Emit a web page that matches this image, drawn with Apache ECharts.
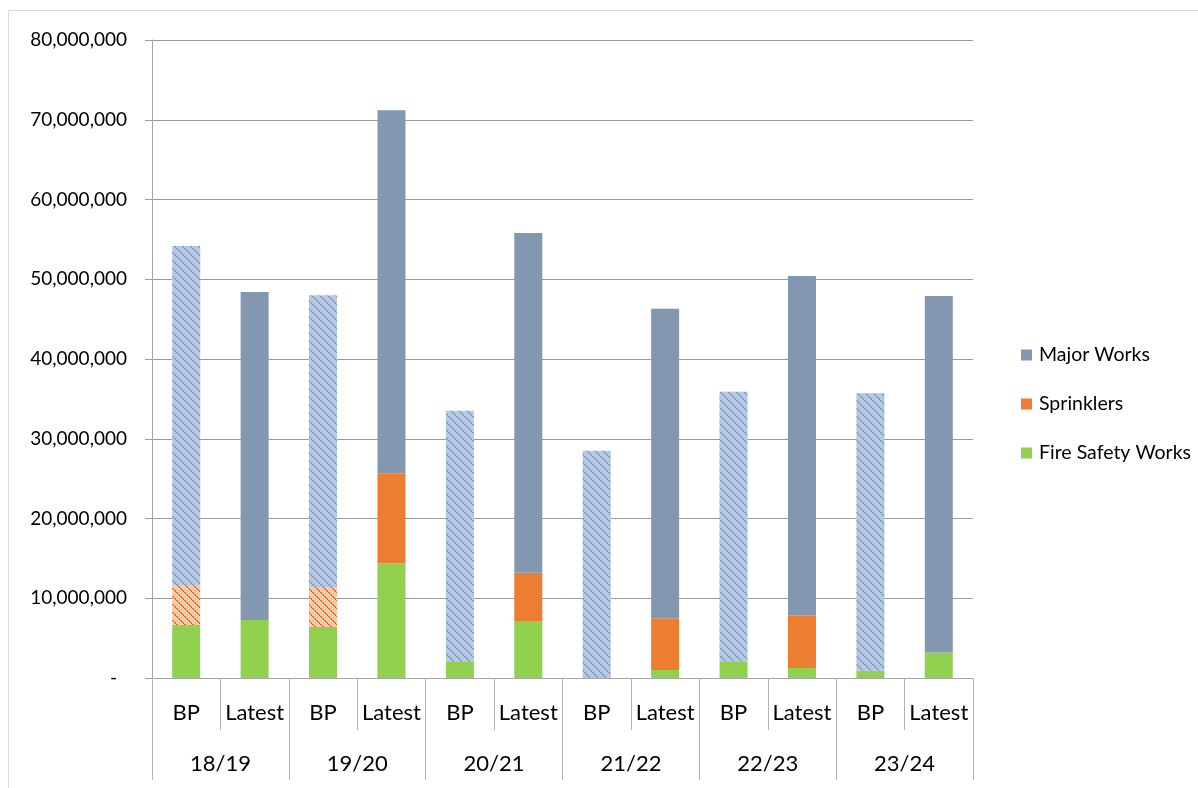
<!DOCTYPE html>
<html>
<head>
<meta charset="utf-8">
<script src="https://cdn.jsdelivr.net/npm/echarts@6/dist/echarts.min.js"></script>
<style>
  html, body { margin: 0; padding: 0; background: #fff; }
  #chart { width: 1198px; height: 788px; }
</style>
</head>
<body>
<div id="chart"></div>
<script>
// Financial years and the two figures shown for each (business plan vs latest)
const years = ['18/19', '19/20', '20/21', '21/22', '22/23', '23/24'];
const kinds = ['BP', 'Latest'];

// Stacked values per bar, in order: 18/19 BP, 18/19 Latest, 19/20 BP, ...
const fireSafetyWorks = [6650000, 7270000, 6400000, 14400000, 2000000, 7150000, 0, 1000000, 2100000, 1250000, 900000, 3200000];
const sprinklers      = [5010000, 0, 5000000, 11200000, 0, 6050000, 0, 6500000, 0, 6550000, 0, 0];
const majorWorks      = [42510000, 41130000, 36600000, 45600000, 31500000, 42600000, 28500000, 38800000, 33800000, 42600000, 34800000, 44700000];

// Y axis ticks
const yMax = 80000000;
const yStep = 10000000;

const FONT = 'Lato, "Liberation Sans", sans-serif';

// One category per bar, keyed by year so the names stay unique
const categories = [];
years.forEach(y => kinds.forEach(k => categories.push(k + '|' + y)));

// Dotted diagonal hatch used for the business-plan bars
function hatch(bg, fg) {
  const c = document.createElement('canvas');
  c.width = 8; c.height = 8;
  const g = c.getContext('2d');
  g.fillStyle = bg;
  g.fillRect(0, 0, 8, 8);
  g.fillStyle = fg;
  for (let i = 0; i < 8; i++) {
    g.fillRect(i, i, 1, 1);
    if (i % 2 === 0) g.fillRect((i + 1) % 8, i, 1, 1);
  }
  return { image: c, repeat: 'repeat' };
}

const colors = {
  major: '#8497b0',
  sprink: '#ed7d31',
  fire: '#92d050'
};
const patterns = {
  major: hatch('#b4c7e7', '#8497b0'),
  sprink: hatch('#f8cbad', '#e3691f'),
  fire: colors.fire
};

function seriesData(values, key) {
  return values.map((v, i) => {
    const isBP = categories[i].startsWith('BP');
    return {
      value: v,
      itemStyle: { color: isBP ? patterns[key] : colors[key] }
    };
  });
}

function makeSeries(name, values, key) {
  return {
    name: name,
    type: 'bar',
    stack: 'total',
    barWidth: 28,
    xAxisIndex: 0,
    itemStyle: { color: colors[key] },
    emphasis: { disabled: true },
    data: seriesData(values, key)
  };
}

const chart = echarts.init(document.getElementById('chart'), null, { renderer: 'canvas' });

chart.setOption({
  animation: false,
  backgroundColor: '#fff',
  textStyle: { fontFamily: FONT },
  graphic: [{
    type: 'rect',
    shape: { x: 8.5, y: 10.5, width: 1400, height: 1000 },
    style: { fill: 'none', stroke: '#d9d9d9', lineWidth: 1 },
    silent: true,
    z: -10
  }],
  grid: { left: 152, right: 225, top: 40, bottom: 110, containLabel: false },
  legend: {
    orient: 'vertical',
    left: 1016,
    top: 340,
    itemWidth: 11,
    itemHeight: 11,
    itemGap: 29,
    icon: 'rect',
    data: ['Major Works', 'Sprinklers', 'Fire Safety Works'],
    textStyle: { fontSize: 19.5, color: '#000', fontFamily: FONT, padding: [0, 0, 0, 2] }
  },
  xAxis: [
    {
      type: 'category',
      data: categories,
      position: 'bottom',
      axisLine: { show: true, lineStyle: { color: '#a6a6a6', width: 1 } },
      axisTick: { show: true, interval: 0, length: 52, lineStyle: { color: '#b3b3b3' } },
      axisLabel: {
        interval: 0,
        margin: 24,
        fontSize: 22,
        color: '#000',
        fontFamily: FONT,
        formatter: v => v.split('|')[0]
      },
      splitLine: { show: false }
    },
    {
      type: 'category',
      data: years,
      position: 'bottom',
      axisLine: { show: false },
      axisTick: { show: true, interval: 0, length: 102, lineStyle: { color: '#b3b3b3' } },
      axisLabel: { interval: 0, margin: 75, fontSize: 22, color: '#000', fontFamily: FONT },
      splitLine: { show: false }
    }
  ],
  yAxis: {
    type: 'value',
    min: 0,
    max: yMax,
    interval: yStep,
    axisLine: { show: true, lineStyle: { color: '#a6a6a6' } },
    axisTick: { show: true, length: 7, lineStyle: { color: '#999' } },
    splitLine: { show: true, lineStyle: { color: '#9a9a9a', width: 1 } },
    axisLabel: {
      margin: 25,
      fontSize: 19,
      color: '#000',
      fontFamily: FONT,
      formatter: v => v === 0 ? '{z|-}' : v.toLocaleString('en-US'),
      rich: { z: { fontSize: 19, color: '#000', padding: [0, 10, 0, 0], fontFamily: FONT } }
    }
  },
  series: [
    makeSeries('Fire Safety Works', fireSafetyWorks, 'fire'),
    makeSeries('Sprinklers', sprinklers, 'sprink'),
    makeSeries('Major Works', majorWorks, 'major')
  ]
});
</script>
</body>
</html>
